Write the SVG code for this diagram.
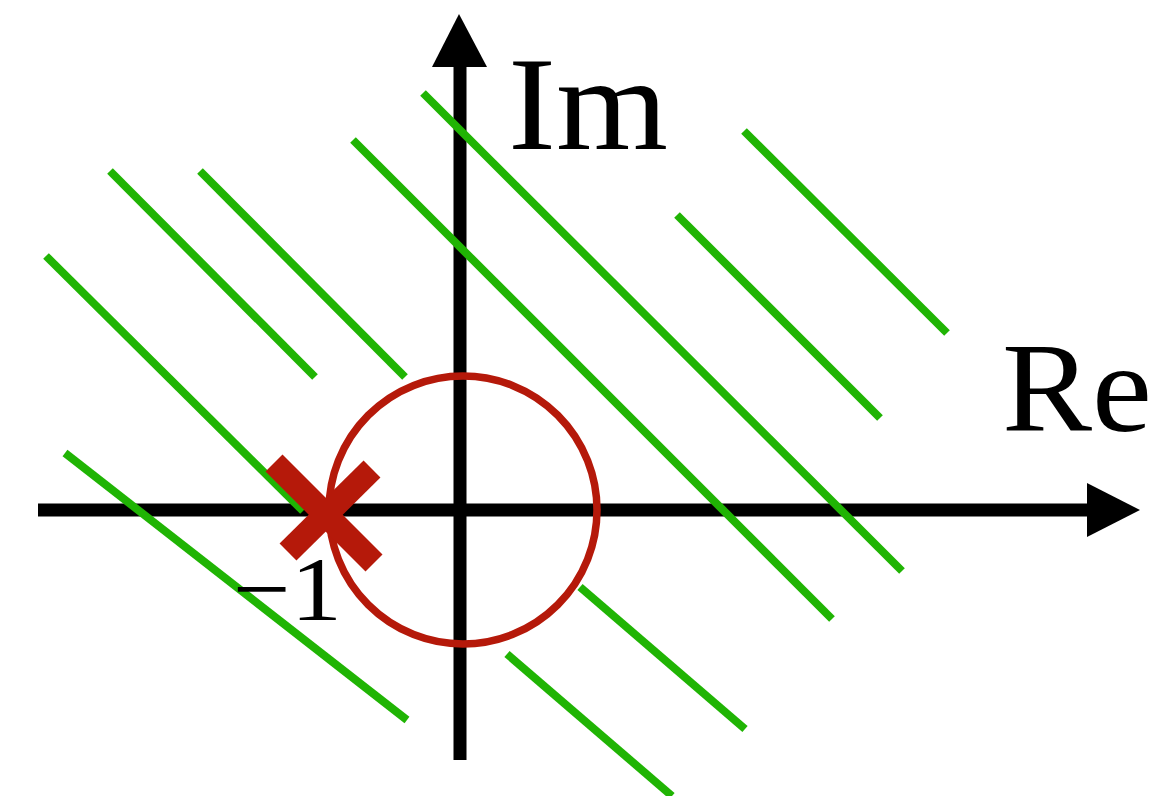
<svg xmlns="http://www.w3.org/2000/svg" width="1169" height="796" viewBox="0 0 1169 796">
<style>
.g{stroke:#20b404;stroke-width:8;stroke-linecap:butt;fill:none}
.ax{stroke:#000;stroke-width:13;fill:none}
.lbl{font-family:"Liberation Serif","DejaVu Serif",serif;fill:#000}
</style>
<rect width="1169" height="796" fill="#fff"/>
<g id="axes">
<line class="ax" x1="38" y1="510" x2="1092" y2="510"/>
<polygon points="1087,483 1140,510 1087,537" fill="#000"/>
<line class="ax" x1="460" y1="760" x2="460" y2="62"/>
<polygon points="432,67 459,14 487,67" fill="#000"/>
</g>
<g id="lines">
<line class="g" x1="46" y1="256" x2="303" y2="511"/>
<line class="g" x1="110" y1="171" x2="315" y2="377"/>
<line class="g" x1="200" y1="171" x2="405" y2="377"/>
<line class="g" x1="353" y1="140" x2="832" y2="619"/>
<line class="g" x1="423" y1="93" x2="902" y2="571"/>
<line class="g" x1="677" y1="215" x2="880" y2="418"/>
<line class="g" x1="744" y1="131" x2="947" y2="333"/>
<line class="g" x1="65" y1="453" x2="407" y2="720"/>
<line class="g" x1="580" y1="587" x2="745" y2="729"/>
<line class="g" x1="507" y1="654" x2="672" y2="796"/>
</g>
<g id="label-minus1"><text class="lbl" x="233" y="620" font-size="92" textLength="109" lengthAdjust="spacingAndGlyphs">−1</text></g>
<g id="unit-circle"><circle cx="463" cy="510" r="134" fill="none" stroke="#b5190a" stroke-width="7.5"/></g>
<g id="point-minus1">
<line x1="274" y1="463" x2="374" y2="563" stroke="#b5190a" stroke-width="24"/>
<line x1="372" y1="469" x2="288" y2="552" stroke="#b5190a" stroke-width="24"/>
</g>
<g id="label-im"><text class="lbl" x="508" y="149" font-size="134" textLength="160" lengthAdjust="spacingAndGlyphs">Im</text></g>
<g id="label-re"><text class="lbl" x="1002" y="431" font-size="128" textLength="150" lengthAdjust="spacingAndGlyphs">Re</text></g>
</svg>
